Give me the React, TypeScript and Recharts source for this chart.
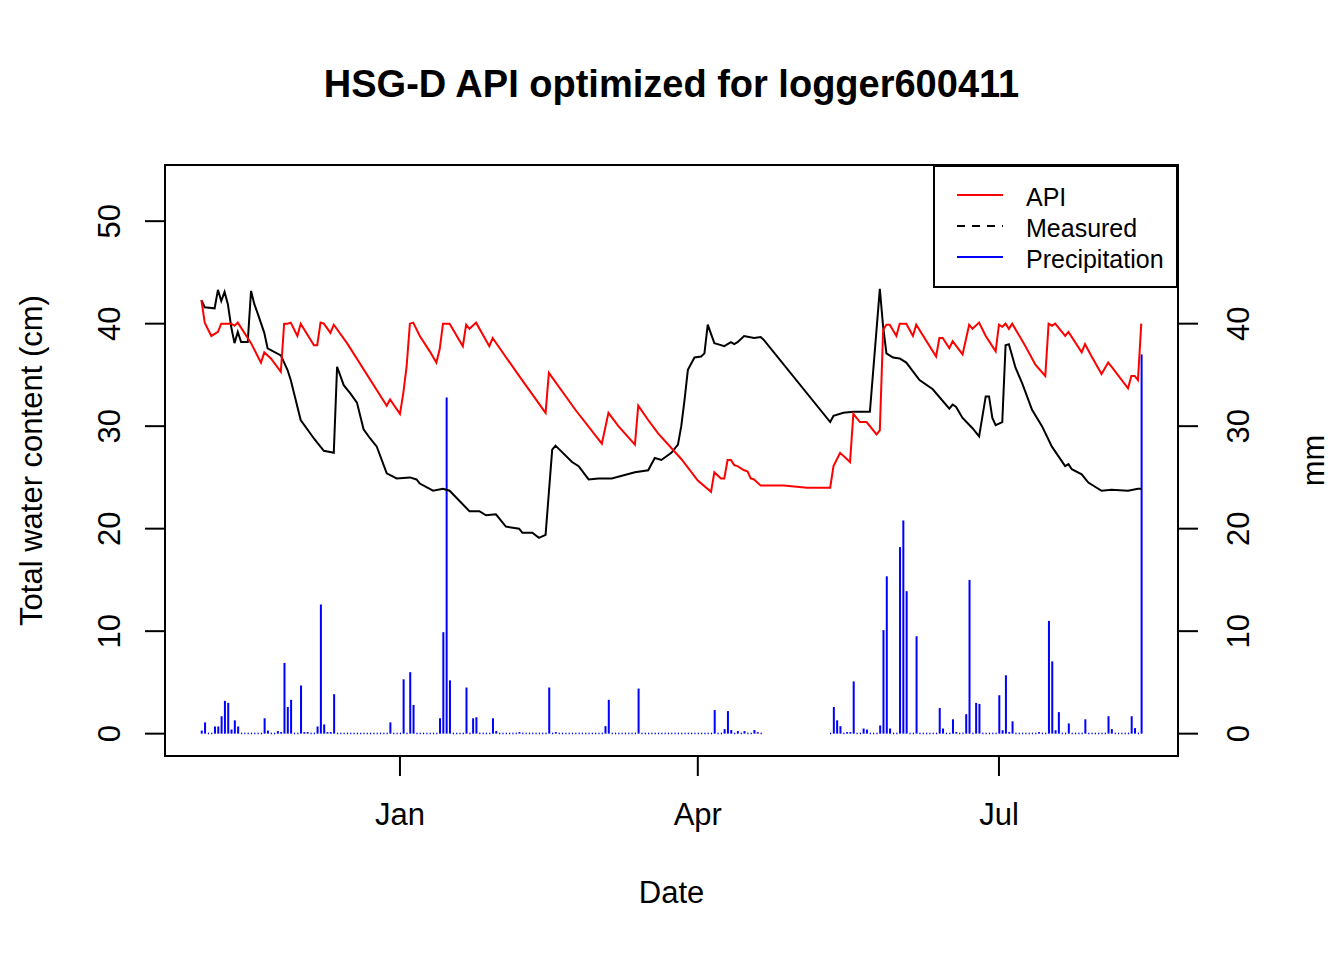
import { Bar, ComposedChart, Legend, Line, ReferenceArea, XAxis, YAxis } from "recharts";

const FONT = '"Liberation Sans", Arial, sans-serif';

// days counted from 1 Jan
const X_MIN = -71.0;
const X_MAX = 235.1;
const Y_MIN = -2.18;
const Y_MAX = 55.48;

const X_TICKS = [0, 90, 181];
const X_TICK_LABELS = ["Jan", "Apr", "Jul"];
const LEFT_TICKS = [0, 10, 20, 30, 40, 50];
const RIGHT_TICKS = [0, 10, 20, 30, 40];

const API_DAYS = [
  -60, -59, -57, -55, -54, -51, -50, -49, -45, -42, -41, -39, -36, -35, -34, -33, -31, -30, -26, -25,
  -24, -23, -21, -20, -16, -4, -3, 0, 1, 2, 3, 4, 6, 9, 11, 12, 13, 15, 19, 20,
  21, 23, 27, 28, 36, 44, 45, 53, 61, 63, 66, 71, 72, 75, 78, 85, 90, 94, 95, 97,
  98, 99, 100, 101, 102, 104, 105, 106, 107, 109, 116, 123, 130, 131, 133, 136, 137, 139, 141, 144,
  145, 146, 147, 148, 150, 151, 153, 155, 156, 162, 163, 164, 166, 167, 170, 172, 173, 175, 177, 180,
  181, 182, 183, 184, 185, 189, 192, 195, 196, 197, 198, 201, 202, 206, 207, 209, 212, 214, 215, 220,
  221, 222, 223, 224,
];
const API_VALUES = [
  42.3, 40.1, 38.8, 39.2, 40.0, 40.0, 39.8, 40.1, 38.1, 36.2, 37.2, 36.6, 35.3, 40.0, 40.0, 40.1, 38.8, 40.0, 37.9, 37.9,
  40.1, 40.0, 39.1, 39.9, 38.1, 32.0, 32.6, 31.2, 33.2, 35.8, 40.0, 40.1, 38.8, 37.3, 36.2, 37.5, 40.0, 40.0, 37.8, 39.9,
  39.5, 40.1, 37.8, 38.6, 34.9, 31.3, 35.2, 31.6, 28.3, 31.3, 30.0, 28.2, 32.0, 30.6, 29.3, 26.8, 24.7, 23.6, 25.5, 24.9,
  24.9, 26.7, 26.7, 26.2, 26.1, 25.7, 25.6, 24.9, 24.8, 24.2, 24.2, 24.0, 24.0, 26.1, 27.4, 26.5, 31.2, 30.4, 30.4, 29.2,
  29.6, 39.4, 39.9, 39.9, 38.8, 40.0, 40.0, 38.8, 39.9, 36.8, 38.6, 38.6, 37.6, 38.3, 37.0, 39.9, 39.5, 40.1, 38.8, 37.3,
  39.9, 39.7, 40.0, 39.5, 40.0, 37.8, 36.0, 34.9, 40.0, 39.8, 40.0, 38.8, 39.2, 37.2, 38.0, 36.8, 35.1, 36.2, 35.8, 33.7,
  34.9, 34.9, 34.5, 40.0,
];

const MEASURED_DAYS = [
  -60, -59, -56, -55, -54, -53, -52, -51, -50, -49, -48, -46, -45, -44, -43, -41, -40, -36, -34, -33,
  -30, -26, -25, -23, -20, -19, -17, -15, -13, -11, -9, -7, -4, -1, 3, 5, 6, 10, 13, 15,
  21, 24, 26, 29, 32, 36, 37, 40, 42, 44, 46, 47, 52, 54, 57, 60, 64, 71, 75, 77,
  79, 82, 84, 85, 86, 87, 89, 91, 92, 93, 95, 96, 98, 100, 101, 102, 104, 107, 109, 110,
  130, 131, 134, 137, 142, 145, 146, 147, 149, 151, 153, 157, 161, 166, 167, 168, 170, 173, 175, 177,
  178, 179, 180, 182, 183, 184, 186, 188, 191, 194, 197, 201, 202, 203, 206, 208, 212, 215, 220, 223,
  224,
];
const MEASURED_VALUES = [
  42.3, 41.6, 41.5, 43.3, 42.2, 43.1, 41.9, 39.7, 38.1, 39.2, 38.2, 38.2, 43.2, 41.9, 41.0, 39.1, 37.6, 36.9, 35.5, 34.5,
  30.6, 28.8, 28.4, 27.6, 27.4, 35.8, 34.0, 33.2, 32.3, 29.7, 28.8, 28.0, 25.4, 24.9, 25.0, 24.8, 24.4, 23.7, 23.9, 23.7,
  21.7, 21.7, 21.3, 21.4, 20.2, 20.0, 19.6, 19.6, 19.1, 19.4, 27.7, 28.1, 26.5, 26.1, 24.8, 24.9, 24.9, 25.5, 25.7, 26.9,
  26.7, 27.4, 28.2, 30.0, 32.6, 35.5, 36.7, 36.8, 37.1, 39.9, 38.1, 38.0, 37.8, 38.2, 38.0, 38.2, 38.8, 38.6, 38.7, 38.4,
  30.4, 31.0, 31.3, 31.4, 31.4, 43.4, 39.7, 37.1, 36.7, 36.6, 36.2, 34.5, 33.6, 31.7, 32.1, 31.9, 30.8, 29.8, 29.0, 32.9,
  32.9, 30.8, 30.1, 30.4, 37.9, 38.0, 35.7, 34.2, 31.6, 30.0, 28.0, 26.1, 26.3, 25.8, 25.3, 24.5, 23.7, 23.8, 23.7, 23.9,
  23.9,
];

// days with rain (mm); all other recorded days are 0
const PRECIP_DAYS = [
  -60, -59, -56, -55, -54, -53, -52, -51, -50, -49, -41, -40, -37, -36, -35, -34, -33, -30, -29, -28,
  -25, -24, -23, -22, -21, -20, -3, 1, 3, 4, 12, 13, 14, 15, 20, 22, 23, 28, 29, 36,
  45, 47, 62, 63, 72, 95, 98, 99, 100, 102, 104, 107, 108, 131, 132, 133, 135, 136, 137, 140,
  141, 145, 146, 147, 148, 151, 152, 153, 156, 163, 164, 167, 168, 171, 172, 174, 175, 181, 182, 183,
  184, 185, 193, 196, 197, 198, 199, 202, 207, 214, 215, 221, 222, 224,
];
const PRECIP_MM = [
  0.3, 1.1, 0.7, 0.7, 1.7, 3.2, 3.0, 0.4, 1.3, 0.7, 1.5, 0.3, 0.25, 0.15, 6.9, 2.6, 3.3, 4.7, 0.15, 0.15,
  0.7, 12.6, 0.9, 0.15, 0.15, 3.85, 1.1, 5.3, 6.0, 2.8, 1.5, 9.9, 32.8, 5.2, 4.5, 1.5, 1.6, 1.5, 0.25, 0.15,
  4.5, 0.15, 0.73, 3.3, 4.4, 2.3, 0.44, 2.2, 0.35, 0.25, 0.25, 0.35, 0.15, 2.6, 1.3, 0.73, 0.15, 0.15, 5.1, 0.5,
  0.4, 0.8, 10.1, 15.35, 0.5, 18.2, 20.8, 13.9, 9.5, 2.5, 0.5, 1.4, 0.15, 1.9, 15.0, 3.0, 2.9, 3.75, 0.33, 5.7,
  0.15, 1.2, 0.15, 11.0, 7.05, 0.33, 2.1, 1.0, 1.4, 1.7, 0.44, 1.7, 0.54, 37.0,
];
// recorded periods (first day, last day)
const PRECIP_SPANS = [
  [-60, 109],
  [130, 224],
];

const apiRows = API_DAYS.map((day, i) => ({ day, api: API_VALUES[i] }));
const measuredRows = MEASURED_DAYS.map((day, i) => ({ day, measured: MEASURED_VALUES[i] }));

const precipRows: { day: number; mm: number }[] = [];
PRECIP_SPANS.forEach(([from, to]) => {
  for (let day = from; day <= to; day++) {
    const idx = PRECIP_DAYS.indexOf(day);
    precipRows.push({ day, mm: idx >= 0 ? PRECIP_MM[idx] : 0 });
  }
});

const PrecipShape = (props: any) => {
  const { x, y, width, height, payload } = props;
  const cx = x + width / 2;
  if (!payload || !payload.mm || height < 0.5) {
    return <rect x={cx - 0.5} y={y - 1} width={1.2} height={1.6} fill="#0000FF" />;
  }
  return <rect x={cx - 1} y={y} width={2} height={height} fill="#0000FF" />;
};

const LeftTick = ({ x, y, payload }: any) => (
  <text
    transform={`translate(${x - 34.5}, ${y}) rotate(-90)`}
    textAnchor="middle"
    dy="0.36em"
    fontSize={31}
    fontFamily={FONT}
    fill="#000"
  >
    {payload.value}
  </text>
);

const RightTick = ({ x, y, payload }: any) => (
  <text
    transform={`translate(${x + 38}, ${y}) rotate(-90)`}
    textAnchor="middle"
    dy="0.36em"
    fontSize={31}
    fontFamily={FONT}
    fill="#000"
  >
    {payload.value}
  </text>
);

const LegendBox = () => (
  <svg width={245} height={123} style={{ display: "block" }}>
    <rect x={1} y={1} width={243} height={121} fill="#fff" stroke="#000" strokeWidth={2} />
    <line x1={24} x2={70} y1={30} y2={30} stroke="#FF0000" strokeWidth={2} />
    <line x1={24} x2={70} y1={61} y2={61} stroke="#000" strokeWidth={2} strokeDasharray="8 7" />
    <line x1={24} x2={70} y1={92} y2={92} stroke="#0000FF" strokeWidth={2} />
    <g fontSize={25} fontFamily={FONT} fill="#000">
      <text x={93} y={41}>API</text>
      <text x={93} y={72}>Measured</text>
      <text x={93} y={103}>Precipitation</text>
    </g>
  </svg>
);

const tickLineStyle = { stroke: "#000", strokeWidth: 2 };

export default function App() {
  return (
    <div style={{ position: "absolute", left: 0, top: 0, width: 1344, height: 960, background: "#fff" }}>
      <ComposedChart
        width={1344}
        height={960}
        data={precipRows}
        margin={{ top: 165, right: 86, bottom: 104, left: 85 }}
      >
        <XAxis
          dataKey="day"
          type="number"
          domain={[X_MIN, X_MAX]}
          allowDataOverflow
          ticks={X_TICKS}
          tickFormatter={(v: number) => X_TICK_LABELS[X_TICKS.indexOf(v)] ?? ""}
          tickSize={20}
          tickMargin={27}
          tickLine={tickLineStyle}
          axisLine={false}
          height={100}
          tick={{ fontSize: 31, fill: "#000", fontFamily: FONT }}
        />
        <YAxis
          yAxisId="left"
          orientation="left"
          type="number"
          domain={[Y_MIN, Y_MAX]}
          allowDataOverflow
          ticks={LEFT_TICKS}
          tickSize={20}
          tickLine={tickLineStyle}
          axisLine={false}
          width={80}
          tick={<LeftTick />}
        />
        <YAxis
          yAxisId="right"
          orientation="right"
          type="number"
          domain={[Y_MIN, Y_MAX]}
          allowDataOverflow
          ticks={RIGHT_TICKS}
          tickSize={20}
          tickLine={tickLineStyle}
          axisLine={false}
          width={80}
          tick={<RightTick />}
        />
        <Bar
          yAxisId="right"
          dataKey="mm"
          name="Precipitation"
          barSize={2}
          fill="#0000FF"
          shape={<PrecipShape />}
          isAnimationActive={false}
        />
        <Line
          yAxisId="left"
          data={measuredRows}
          dataKey="measured"
          name="Measured"
          type="linear"
          stroke="#000000"
          strokeWidth={2}
          dot={false}
          isAnimationActive={false}
        />
        <Line
          yAxisId="left"
          data={apiRows}
          dataKey="api"
          name="API"
          type="linear"
          stroke="#FF0000"
          strokeWidth={2}
          dot={false}
          isAnimationActive={false}
        />
        <ReferenceArea
          yAxisId="left"
          x1={X_MIN}
          x2={X_MAX}
          y1={Y_MIN}
          y2={Y_MAX}
          fill="none"
          fillOpacity={0}
          stroke="#000"
          strokeWidth={2}
          ifOverflow="visible"
        />
        <Legend
          layout="horizontal"
          verticalAlign="middle"
          align="center"
          content={<LegendBox />}
          wrapperStyle={{ position: "absolute", left: 933, top: 165, right: "auto", bottom: "auto", width: 245, height: 123 }}
        />
      </ComposedChart>
      <svg
        width={1344}
        height={960}
        style={{ position: "absolute", left: 0, top: 0, pointerEvents: "none" }}
        fontFamily={FONT}
      >
        <text x={671.5} y={97} textAnchor="middle" fontSize={38} fontWeight="bold" fill="#000">
          HSG-D API optimized for logger600411
        </text>
        <text x={671.5} y={903} textAnchor="middle" fontSize={31} fill="#000">
          Date
        </text>
        <text transform="translate(42, 460.5) rotate(-90)" textAnchor="middle" fontSize={31} fill="#000">
          Total water content (cm)
        </text>
        <text transform="translate(1324, 460.5) rotate(-90)" textAnchor="middle" fontSize={31} fill="#000">
          mm
        </text>
      </svg>
    </div>
  );
}
